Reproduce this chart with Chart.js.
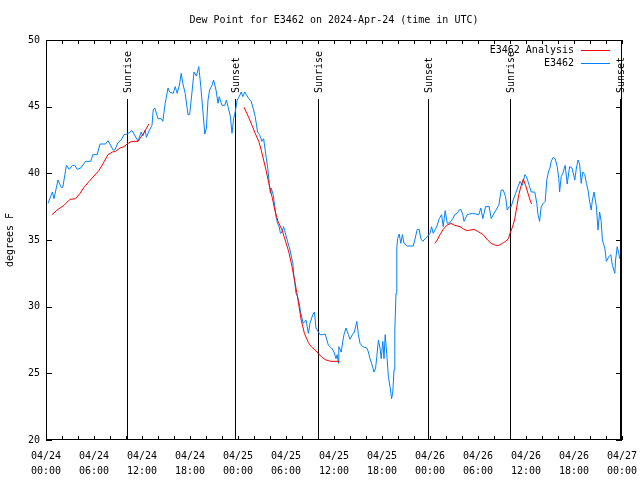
<!DOCTYPE html>
<html>
<head>
<meta charset="utf-8">
<title>Dew Point for E3462</title>
<script src="https://cdn.jsdelivr.net/npm/chart.js@4.4.1/dist/chart.umd.min.js"></script>
<style>
  html, body { margin: 0; padding: 0; background: #fff; }
  #wrap { width: 640px; height: 480px; }
</style>
</head>
<body>
<div id="wrap"><canvas id="dewChart" width="640" height="480"></canvas></div>
<script>
// hours since 04/24 00:00 UTC
const obsHours = [
  0.25, 0.8, 1.0, 1.5, 1.9, 2.1, 2.55, 2.9, 3.3, 3.6,
  3.9, 4.35, 4.95, 5.6, 5.85, 6.4, 6.75, 7.45, 7.75, 8.4,
  8.6, 9.0, 9.4, 9.75, 10.15, 10.75, 11.15, 11.5, 11.9, 12.1,
  12.4, 12.55, 12.9, 13.25, 13.4, 13.6, 14.0, 14.4, 14.6, 14.9,
  15.25, 15.45, 15.9, 16.15, 16.4, 16.7, 16.9, 17.1, 17.4, 17.75,
  17.95, 18.15, 18.5, 18.8, 19.1, 19.35, 19.6, 19.85, 20.05, 20.25,
  20.45, 20.75, 20.95, 21.25, 21.5, 21.65, 22.0, 22.35, 22.55, 22.75,
  23.05, 23.25, 23.45, 23.65, 23.9, 24.15, 24.4, 24.6, 24.85, 25.05,
  25.35, 25.65, 25.95, 26.15, 26.45, 26.7, 27.0, 27.2, 27.4, 27.55,
  27.75, 27.9, 28.05, 28.15, 28.4, 28.6, 28.75, 28.95, 29.15, 29.3,
  29.5, 29.7, 30.15, 30.5, 30.85, 31.0, 31.25, 31.45, 31.65, 31.85,
  32.15, 32.5, 32.8, 33.0, 33.35, 33.55, 33.75, 34.05, 34.25, 34.6,
  34.9, 35.3, 35.7, 36.0, 36.25, 36.4, 36.55, 36.6, 36.9, 37.1,
  37.25, 37.5, 37.8, 38.0, 38.3, 38.55, 38.85, 39.05, 39.25, 39.6,
  40.1, 40.3, 40.5, 40.7, 41.0, 41.2, 41.35, 41.55, 41.75, 41.9,
  42.1, 42.25, 42.4, 42.6, 42.8, 43.0, 43.2, 43.35, 43.5, 43.6,
  43.75, 43.85, 43.95, 44.15, 44.35, 44.55, 44.75, 45.15, 45.9, 46.1,
  46.4, 46.65, 46.85, 47.1, 47.4, 47.65, 48.0, 48.2, 48.4, 48.75,
  48.9, 49.15, 49.45, 49.65, 49.9, 50.15, 50.5, 50.85, 51.1, 51.4,
  51.65, 51.85, 52.1, 52.25, 52.65, 53.3, 54.1, 54.35, 54.6, 54.95,
  55.4, 55.65, 56.1, 56.4, 56.6, 56.9, 57.15, 57.45, 57.65, 57.9,
  58.15, 58.4, 58.7, 59.0, 59.25, 59.55, 59.85, 60.05, 60.25, 60.45,
  60.65, 61.1, 61.35, 61.5, 61.7, 61.9, 62.15, 62.4, 62.6, 62.8,
  63.0, 63.15, 63.4, 63.65, 63.9, 64.1, 64.2, 64.4, 64.6, 64.9,
  65.15, 65.45, 65.75, 66.1, 66.3, 66.5, 66.7, 66.9, 67.1, 67.35,
  67.55, 67.75, 67.95, 68.15, 68.3, 68.5, 68.8, 69.0, 69.2, 69.4,
  69.55, 69.85, 70.05, 70.35, 70.6, 70.8, 71.1, 71.2, 71.4, 71.6,
  71.7
];
const obsDewF = [
  37.75, 38.6, 38.1, 39.5, 38.95, 38.95, 40.6, 40.3, 40.6, 40.6,
  40.3, 40.4, 40.9, 40.9, 41.4, 41.4, 42.2, 42.2, 42.45, 41.75,
  41.75, 42.3, 42.5, 42.9, 42.95, 43.2, 42.8, 42.4, 43.1, 42.8,
  43.25, 42.7, 43.2, 43.6, 44.75, 44.9, 44.1, 44.1, 43.9, 45.25,
  46.4, 46.1, 46.0, 46.5, 46.0, 46.7, 47.5, 46.75, 46.0, 44.4,
  44.4, 45.5, 47.6, 47.3, 48.0, 46.5, 44.75, 42.95, 43.4, 45.5,
  46.25, 46.6, 47.0, 46.25, 45.25, 45.75, 45.1, 45.1, 45.5, 45.0,
  44.25, 43.0, 44.1, 44.6, 45.5, 45.75, 46.1, 45.75, 46.1, 45.9,
  45.6, 45.4, 44.75, 44.25, 43.1, 42.9, 42.4, 42.6, 41.75, 41.1,
  40.25, 39.25, 38.5, 38.9, 38.4, 37.5, 36.75, 36.25, 36.0, 35.5,
  35.6, 36.0, 35.0, 34.25, 33.25, 32.25, 31.0, 30.75, 30.25, 29.5,
  28.75, 29.0, 28.0, 28.75, 29.4, 29.6, 28.4, 28.1, 27.9, 27.9,
  27.95, 27.1, 26.9, 26.6, 26.1, 26.4, 25.75, 27.0, 26.6, 27.4,
  27.9, 28.4, 27.9, 27.55, 27.9, 28.1, 28.9, 27.9, 27.25, 27.0,
  26.9, 26.6, 26.1, 25.75, 25.1, 25.4, 26.25, 27.5, 26.9, 26.1,
  27.4, 26.1, 27.9, 26.4, 24.75, 24.0, 23.1, 23.6, 25.25, 28.25,
  31.0, 34.4, 35.1, 35.45, 34.75, 35.4, 34.75, 34.55, 34.55, 35.0,
  35.8, 35.8, 35.1, 34.9, 35.1, 35.25, 35.5, 36.0, 35.5, 35.9,
  36.1, 36.6, 36.9, 36.0, 37.2, 36.25, 36.3, 36.6, 36.9, 37.0,
  37.25, 37.3, 36.9, 36.4, 36.9, 37.0, 36.9, 37.4, 36.6, 37.5,
  37.5, 36.6, 37.1, 37.4, 37.6, 38.75, 38.75, 38.25, 37.25, 37.5,
  37.5, 38.0, 38.5, 39.0, 39.4, 39.1, 39.9, 39.75, 39.4, 39.0,
  38.6, 38.6, 37.75, 36.9, 36.4, 37.5, 37.75, 37.9, 39.5, 40.1,
  40.4, 40.9, 41.2, 41.1, 40.5, 39.6, 38.6, 39.75, 40.0, 40.6,
  39.2, 40.5, 40.4, 39.5, 40.4, 41.0, 40.7, 39.25, 40.1, 39.9,
  39.25, 38.75, 37.9, 37.25, 38.0, 38.6, 37.5, 35.75, 37.1, 36.4,
  35.0, 34.4, 33.4, 33.75, 33.9, 33.1, 32.5, 33.5, 34.5, 34.0,
  33.6
];

// analysis runs, one per day (gaps between them)
const anaHours1 = [0.75, 1.5, 2.25, 3.0, 3.7, 4.25, 4.75, 5.4, 6.0, 6.6, 7.15, 7.75, 8.3, 8.7, 9.25, 9.75, 10.15, 10.5, 11.0, 11.5, 11.9, 12.3, 12.85];
const anaDewF1  = [36.9, 37.3, 37.6, 38.05, 38.1, 38.5, 38.95, 39.4, 39.8, 40.2, 40.75, 41.4, 41.6, 41.65, 41.9, 42.0, 42.2, 42.35, 42.4, 42.4, 42.75, 43.1, 43.7];
const anaHours2 = [24.75, 25.3, 25.75, 26.15, 26.6, 26.9, 27.2, 27.5, 27.85, 28.25, 28.6, 29.0, 29.5, 29.9, 30.35, 30.75, 31.15, 31.5, 31.9, 32.3, 32.8, 33.15, 33.65, 34.1, 34.5, 35.0, 35.6, 36.25, 36.65];
const anaDewF2  = [44.95, 44.25, 43.6, 43.0, 42.4, 41.75, 41.0, 40.25, 39.25, 38.25, 37.25, 36.4, 35.75, 35.0, 34.1, 33.0, 31.75, 30.5, 29.0, 28.0, 27.3, 27.0, 26.75, 26.45, 26.2, 26.0, 25.9, 25.9, 25.9];
const anaHours3 = [48.6, 48.9, 49.25, 49.65, 50.1, 50.6, 51.1, 51.75, 52.25, 52.65, 53.5, 54.1, 54.65, 55.2, 55.65, 56.2, 56.6, 57.05, 57.45, 57.8, 58.0, 58.3, 58.6, 58.85, 59.1, 59.4, 59.65, 59.95, 60.25, 60.5, 60.7];
const anaDewF3  = [34.75, 35.0, 35.4, 35.8, 36.1, 36.25, 36.1, 36.0, 35.8, 35.7, 35.8, 35.6, 35.4, 35.0, 34.75, 34.6, 34.6, 34.75, 34.9, 35.1, 35.5, 35.95, 36.6, 37.5, 38.4, 39.1, 39.55, 39.1, 38.5, 38.0, 37.7];

const sunHours  = [10.15, 23.6, 34.05, 47.7, 58.05, 71.8];
const sunLabels = ["Sunrise", "Sunset", "Sunrise", "Sunset", "Sunrise", "Sunset"];

const tickHours = [0, 6, 12, 18, 24, 30, 36, 42, 48, 54, 60, 66, 72];
const tickDates = ["04/24", "04/24", "04/24", "04/24", "04/25", "04/25", "04/25", "04/25", "04/26", "04/26", "04/26", "04/26", "04/27"];
const tickTimes = ["00:00", "06:00", "12:00", "18:00", "00:00", "06:00", "12:00", "18:00", "00:00", "06:00", "12:00", "18:00", "00:00"];

const MONO = '"DejaVu Sans Mono", "Liberation Mono", monospace';
Chart.defaults.font.family = MONO;
Chart.defaults.font.size = 10;
Chart.defaults.color = '#000';

const obsPoints = obsHours.map((h, i) => ({ x: h, y: obsDewF[i] }));
const anaPoints = [];
[[anaHours1, anaDewF1], [anaHours2, anaDewF2], [anaHours3, anaDewF3]].forEach(([hs, vs], k) => {
  if (k > 0) anaPoints.push({ x: hs[0] - 0.01, y: null });
  hs.forEach((h, i) => anaPoints.push({ x: h, y: vs[i] }));
});

// gnuplot style frame, inward ticks, sun lines and legend
const gnuDecor = {
  id: 'gnuDecor',
  beforeDatasetsDraw(chart) {
    const { ctx, chartArea: a, scales: { x, y } } = chart;
    ctx.save();
    ctx.strokeStyle = '#000';
    ctx.lineWidth = 1;
    ctx.strokeRect(a.left + 0.5, a.top + 0.5, a.right - a.left - 1, a.bottom - a.top - 1);

    ctx.beginPath();
    for (let v = 20; v <= 50; v += 5) {
      const py = Math.round(y.getPixelForValue(v)) + 0.5;
      ctx.moveTo(a.left, py); ctx.lineTo(a.left + 6, py);
      ctx.moveTo(a.right, py); ctx.lineTo(a.right - 6, py);
    }
    for (let h = 0; h <= 72; h += 2) {
      const px = Math.round(x.getPixelForValue(h)) + 0.5;
      ctx.moveTo(px, a.bottom); ctx.lineTo(px, a.bottom - 4);
      ctx.moveTo(px, a.top); ctx.lineTo(px, a.top + 4);
    }
    ctx.stroke();

    ctx.font = '10px ' + MONO;
    ctx.fillStyle = '#000';
    sunHours.forEach((h, i) => {
      const px = Math.round(x.getPixelForValue(h)) + 0.5;
      ctx.beginPath();
      ctx.moveTo(px, a.top + 59);
      ctx.lineTo(px, a.bottom);
      ctx.stroke();
      ctx.save();
      ctx.translate(px + 1, a.top + 53);
      ctx.rotate(-Math.PI / 2);
      ctx.textAlign = 'left';
      ctx.textBaseline = 'middle';
      ctx.fillText(sunLabels[i], 0, 0);
      ctx.restore();
    });
    ctx.restore();
  },
  afterDraw(chart) {
    const { ctx } = chart;
    ctx.save();
    ctx.font = '10px ' + MONO;
    ctx.textAlign = 'right';
    ctx.textBaseline = 'middle';
    chart.data.datasets.forEach((ds, i) => {
      const ly = 50 + i * 13;
      ctx.fillStyle = '#000';
      ctx.fillText(ds.label, 574, ly);
      ctx.strokeStyle = ds.borderColor;
      ctx.lineWidth = 1;
      ctx.beginPath();
      ctx.moveTo(581, ly + 0.5);
      ctx.lineTo(610, ly + 0.5);
      ctx.stroke();
    });
    ctx.restore();
  }
};

new Chart(document.getElementById('dewChart'), {
  type: 'line',
  data: {
    datasets: [{
      label: 'E3462 Analysis',
      data: anaPoints,
      borderColor: '#ff0000',
      borderWidth: 1,
      pointRadius: 0,
      tension: 0,
      spanGaps: false
    }, {
      label: 'E3462',
      data: obsPoints,
      borderColor: '#0080ff',
      borderWidth: 1,
      pointRadius: 0,
      tension: 0
    }]
  },
  options: {
    responsive: false,
    animation: false,
    layout: { padding: { left: 0, right: 18, top: 0, bottom: 0 } },
    plugins: {
      legend: { display: false },
      tooltip: { enabled: false },
      title: {
        display: true,
        fullSize: false,
        text: 'Dew Point for E3462 on 2024-Apr-24 (time in UTC)',
        font: { size: 10, weight: 'normal' },
        color: '#000',
        padding: { top: 14, bottom: 14 }
      }
    },
    scales: {
      x: {
        type: 'linear',
        min: 0,
        max: 72,
        afterBuildTicks: s => { s.ticks = tickHours.map(v => ({ value: v })); },
        afterFit: s => { s.height = 40; s.paddingLeft = 0; s.paddingRight = 0; },
        grid: { display: false, drawTicks: false },
        border: { display: false },
        ticks: {
          autoSkip: false,
          maxRotation: 0,
          padding: 9,
          font: { size: 10, lineHeight: 1.5 },
          callback: (v, i) => [tickDates[i], tickTimes[i]]
        }
      },
      y: {
        min: 20,
        max: 50,
        afterFit: s => { s.width = 46; },
        grid: { display: false, drawTicks: false },
        border: { display: false },
        ticks: { stepSize: 5, padding: 6, font: { size: 10 } },
        title: { display: true, text: 'degrees F', font: { size: 10 }, padding: { top: 4, bottom: 0 } }
      }
    }
  },
  plugins: [gnuDecor]
});
</script>
</body>
</html>
